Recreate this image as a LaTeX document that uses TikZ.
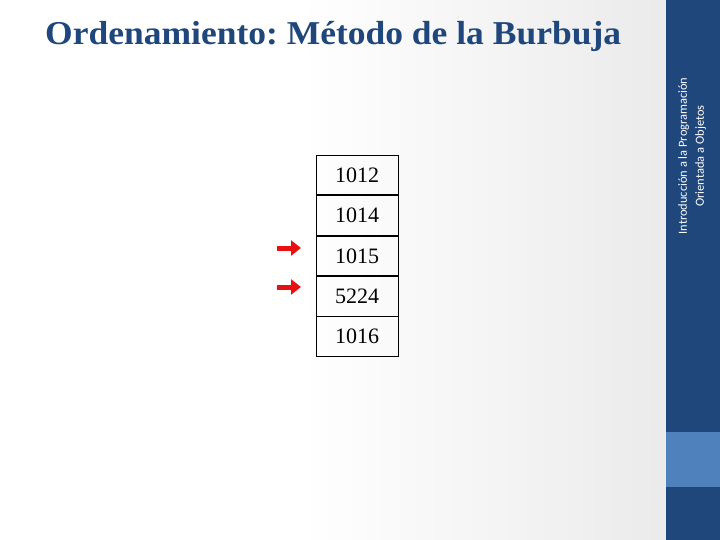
\documentclass[tikz,border=0pt]{standalone}
\usepackage{fontspec}
\setmainfont{Liberation Serif}
\newfontfamily\barrafont{Carlito}
\usetikzlibrary{positioning,arrows.meta}
\frenchspacing
\definecolor{azulosc}{HTML}{1F477B}
\definecolor{azulcla}{HTML}{4F81BD}
\definecolor{rojoflecha}{HTML}{E81010}
\newcommand{\titulo}{Ordenamiento: Método de la Burbuja}
\tikzset{
  celda/.style={draw, thick, minimum width=82pt, minimum height=39.6pt, inner sep=0pt,
    font=\fontsize{22}{22}\selectfont},
  flecha/.style={draw=rojoflecha, line width=5pt, -{Triangle[length=10pt,width=15pt]}},
}
\begin{document}
\begin{tikzpicture}[x=1pt,y=-1pt]
\useasboundingbox (0,0) rectangle (720,540);
% fondo
\shade[left color=white, right color=black!8] (300,0) rectangle (666,540);
\fill[azulosc] (666,0) rectangle (720,540);
\fill[azulcla] (666,432) rectangle (720,487);
% titulo
\node[anchor=base west, inner sep=0pt, text=azulosc] (tit) at (45,45)
  {\scalebox{1.0}[0.94]{\fontsize{35.5}{36}\bfseries\selectfont \titulo}};
\node[rotate=90, text=white, align=center, font=\barrafont\fontsize{12.4}{17}\selectfont] (barra) at (692,156)
  {Introducción a la Programación\\ Orientada a Objetos};

% lista
\node[celda] (n1) at (357,175) {1012};
\node[celda, below=0pt of n1] (n2) {1014};
\node[celda, below=0pt of n2] (n3) {1015};
\node[celda, below=0pt of n3] (n4) {5224};
\node[celda, below=0pt of n4] (n5) {1016};

\coordinate (f1) at (277,248);
\coordinate (g1) at (301,248);
\coordinate (f2) at (277,287);
\coordinate (g2) at (301,287);
\draw[flecha] (f1) -- (g1);
\draw[flecha] (f2) -- (g2);
\end{tikzpicture}
\end{document}
